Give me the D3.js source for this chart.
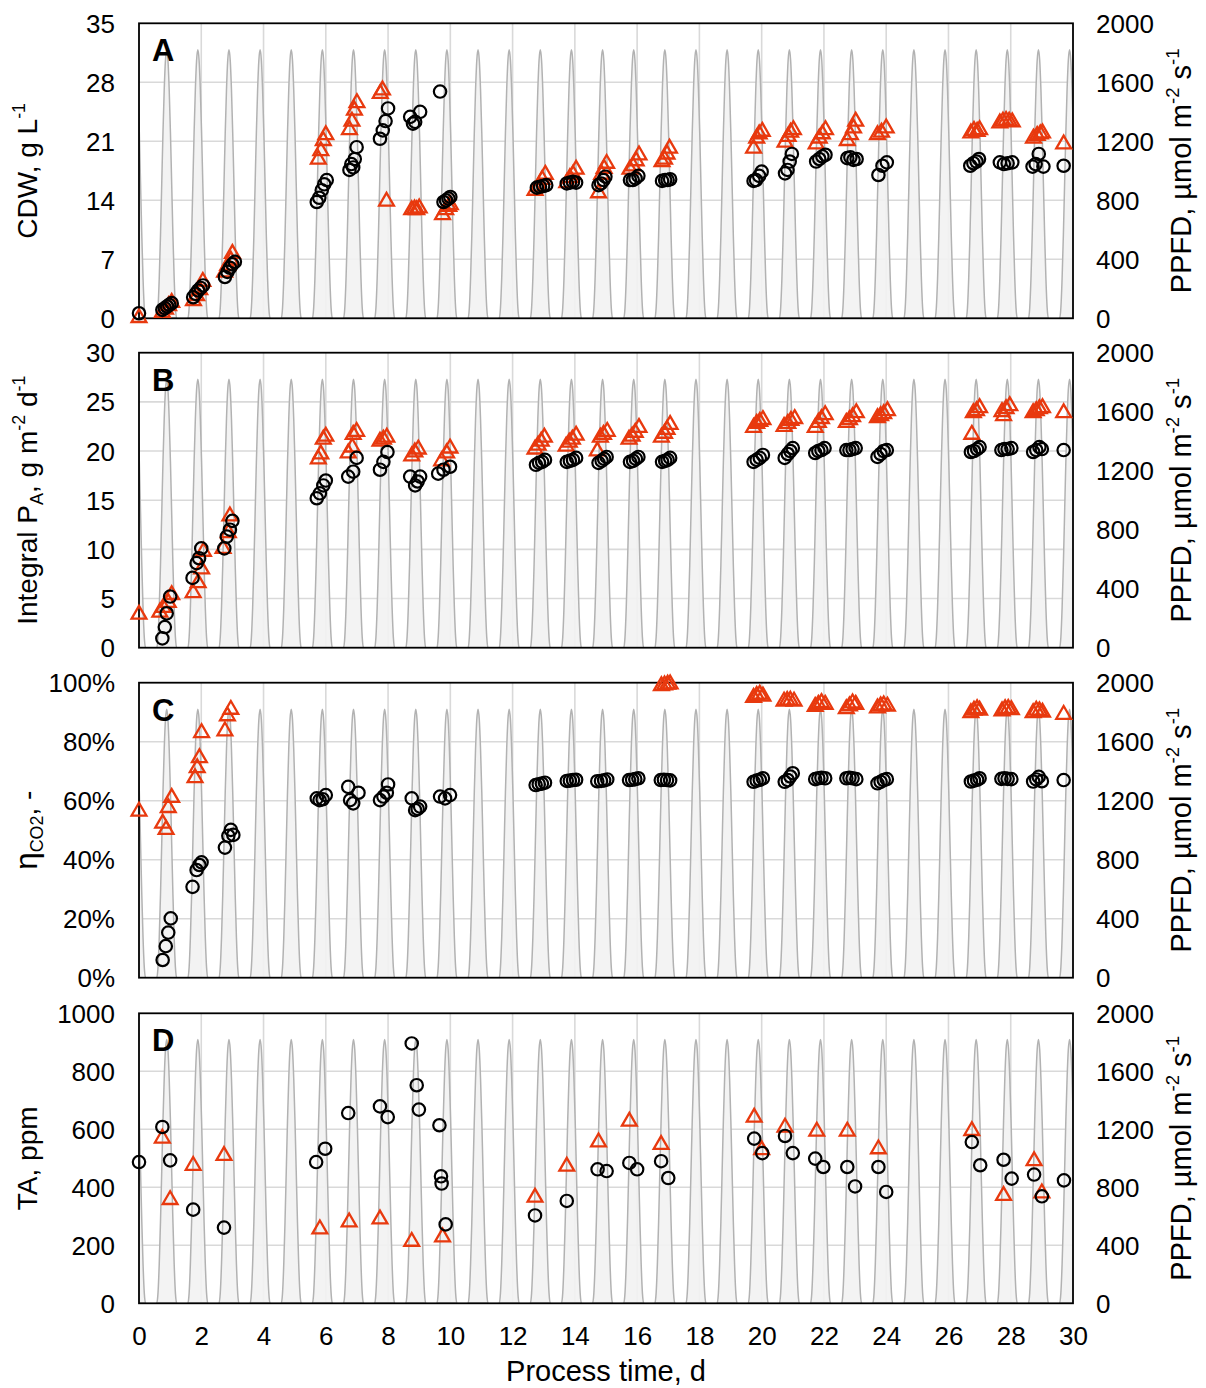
<!DOCTYPE html>
<html><head><meta charset="utf-8">
<script src="https://cdn.jsdelivr.net/npm/d3@7"></script>
<style>
body{margin:0;background:#fff;}
svg text{font-family:"Liberation Sans",Arial,Helvetica,sans-serif;fill:#000;}
</style></head><body>
<svg id="chart" width="1206" height="1388"></svg>
<script>
// ---------- DATA ----------
const xTicks = [0,2,4,6,8,10,12,14,16,18,20,22,24,26,28,30];
const ppfdTicks = [0,400,800,1200,1600,2000];
const cdwTicks = [0,7,14,21,28,35];
const paTicks = [0,5,10,15,20,25,30];
const etaTicks = [0,20,40,60,80,100];
const taTicks = [0,200,400,600,800,1000];

// daily light peaks (day of maximum) and the daily PPFD profile around the peak
const lightPeakDays = [-0.11,0.89,1.89,2.89,3.89,4.89,5.89,6.89,7.89,8.89,9.89,10.89,11.89,12.89,13.89,14.89,
  15.89,16.89,17.89,18.89,19.89,20.89,21.89,22.89,23.89,24.89,25.89,26.89,27.89,28.89,29.89];
const lightOffset = [-0.34,-0.32,-0.28,-0.24,-0.2,-0.16,-0.12,-0.08,-0.04,0,0.04,0.08,0.12,0.16,0.2,0.24,0.28,0.32,0.34];
const lightPPFD   = [0,0,70,270,560,910,1260,1550,1750,1820,1750,1550,1260,910,560,270,70,0,0];

// Panel A: CDW, g/L
const cdwCircles = [[0,0.6],
 [0.75,1.0],[0.83,1.2],[0.9,1.4],[0.97,1.6],[1.05,1.8],
 [1.74,2.5],[1.82,2.9],[1.9,3.3],[1.98,3.6],[2.06,3.9],
 [2.76,4.9],[2.84,5.5],[2.92,6.0],[3.0,6.4],[3.08,6.7],
 [5.71,13.8],[5.79,14.3],[5.87,15.2],[5.95,15.9],[6.03,16.4],
 [6.76,17.6],[6.82,18.3],[6.88,17.9],[6.93,18.9],[6.99,20.3],
 [7.74,21.3],[7.83,22.3],[7.92,23.4],[8.0,24.9],
 [8.71,23.9],[8.8,23.1],[8.87,23.3],[9.03,24.5],
 [9.67,26.9],
 [9.78,13.8],[9.86,14.0],[9.94,14.2],[10.0,14.4],
 [12.78,15.5],[12.88,15.6],[12.98,15.7],[13.08,15.8],
 [13.74,16.0],[13.84,16.1],[13.94,16.2],[14.04,16.1],
 [14.76,15.8],[14.84,16.0],[14.92,16.4],[14.98,16.8],
 [15.77,16.4],[15.86,16.4],[15.95,16.6],[16.04,16.9],
 [16.8,16.3],[16.9,16.4],[16.98,16.4],[17.06,16.5],
 [19.74,16.3],[19.82,16.4],[19.92,16.9],[20.0,17.4],
 [20.75,17.2],[20.83,17.6],[20.9,18.6],[20.97,19.5],
 [21.75,18.6],[21.85,18.9],[21.95,19.2],[22.05,19.4],
 [22.75,19.0],[22.85,19.1],[22.95,18.8],[23.05,18.9],
 [23.75,17.0],[23.88,18.1],[24.02,18.5],
 [26.7,18.1],[26.8,18.4],[26.9,18.6],[26.98,18.9],
 [27.65,18.5],[27.78,18.3],[27.9,18.4],[28.05,18.5],
 [28.7,18.0],[28.8,18.3],[28.9,19.5],[29.05,18.0],
 [29.7,18.1]];
const cdwTriangles = [[0,0.2],
 [0.75,0.8],[0.85,1.2],[0.95,1.6],[1.05,2.0],
 [1.75,2.2],[1.85,2.8],[1.95,3.5],[2.05,4.5],
 [2.75,5.6],[2.85,6.4],[2.95,7.0],[3.0,7.8],
 [5.76,19.0],[5.84,20.0],[5.92,21.2],[6.0,21.9],
 [6.76,22.5],[6.84,23.5],[6.92,24.8],[7.0,25.7],
 [7.75,26.8],[7.82,27.2],[7.95,14.0],
 [8.76,13.0],[8.85,13.1],[8.92,13.0],[9.0,13.2],
 [9.75,12.4],[9.85,13.0],[9.95,13.4],[10.0,13.6],
 [12.72,15.3],[12.85,15.8],[12.95,16.6],[13.05,17.2],
 [13.74,16.2],[13.84,16.8],[13.94,17.2],[14.04,17.8],
 [14.76,15.0],[14.86,17.2],[14.94,17.9],[15.02,18.5],
 [15.77,17.8],[15.87,18.2],[15.97,18.8],[16.06,19.5],
 [16.8,18.7],[16.88,19.0],[16.96,19.6],[17.04,20.3],
 [19.74,20.3],[19.84,21.5],[19.92,22.0],[20.02,22.3],
 [20.75,21.0],[20.85,21.7],[20.93,22.2],[21.02,22.5],
 [21.75,20.8],[21.85,21.5],[21.95,22.0],[22.05,22.5],
 [22.75,21.2],[22.85,21.9],[22.95,22.7],[23.02,23.5],
 [23.72,21.9],[23.85,22.2],[24.0,22.7],
 [26.72,22.1],[26.82,22.4],[26.92,22.3],[27.0,22.5],
 [27.65,23.3],[27.75,23.5],[27.85,23.6],[27.95,23.5],[28.05,23.4],
 [28.73,21.5],[28.85,21.8],[28.95,22.0],[29.02,22.1],
 [29.7,20.8]];

// Panel B: integral PA, g m-2 d-1
const paCircles = [
 [0.75,0.95],[0.83,2.1],[0.89,3.5],[1.0,5.2],
 [1.72,7.1],[1.85,8.6],[1.93,9.1],[2.0,10.1],
 [2.74,10.1],[2.82,11.3],[2.92,12.0],[3.0,12.9],
 [5.71,15.2],[5.81,15.7],[5.92,16.5],[6.0,17.0],
 [6.72,17.4],[6.88,17.9],[6.99,19.3],
 [7.74,18.1],[7.85,18.9],[7.98,19.9],
 [8.71,17.4],[8.87,16.5],[8.95,16.9],[9.03,17.4],
 [9.61,17.7],[9.78,18.1],[9.99,18.4],
 [12.75,18.6],[12.85,18.8],[12.95,18.9],[13.04,19.1],
 [13.74,18.9],[13.84,19.0],[13.94,19.1],[14.04,19.3],
 [14.76,18.8],[14.86,19.0],[14.94,19.2],[15.02,19.4],
 [15.77,18.9],[15.87,19.0],[15.96,19.2],[16.04,19.4],
 [16.8,18.9],[16.9,19.0],[16.98,19.1],[17.06,19.3],
 [19.74,18.9],[19.84,19.1],[19.94,19.3],[20.04,19.6],
 [20.74,19.3],[20.84,19.7],[20.92,20.0],[21.0,20.3],
 [21.72,19.8],[21.82,20.0],[21.92,20.1],[22.02,20.3],
 [22.72,20.1],[22.82,20.1],[22.92,20.2],[23.02,20.3],
 [23.72,19.4],[23.82,19.7],[23.92,20.0],[24.02,20.1],
 [26.72,19.9],[26.82,20.0],[26.92,20.2],[27.0,20.4],
 [27.7,20.1],[27.8,20.2],[27.9,20.2],[28.02,20.3],
 [28.72,19.9],[28.82,20.1],[28.92,20.4],[29.0,20.2],
 [29.7,20.1]];
const paTriangles = [[0,3.5],
 [0.67,3.7],[0.78,4.2],[0.94,4.7],[1.05,5.5],
 [1.74,5.7],[1.9,6.7],[2.01,8.1],[2.07,9.9],
 [2.7,10.2],[2.87,11.8],[2.92,13.5],
 [5.76,19.3],[5.84,19.8],[5.92,21.3],[6.0,21.6],
 [6.72,19.9],[6.85,20.5],[6.88,21.8],[6.99,22.1],
 [7.74,21.1],[7.85,21.3],[7.96,21.5],
 [8.76,19.6],[8.86,20.0],[8.97,20.3],
 [9.72,19.1],[9.88,19.9],[9.99,20.4],
 [12.72,20.3],[12.82,20.7],[12.92,21.1],[13.02,21.5],
 [13.72,20.6],[13.82,21.0],[13.92,21.3],[14.04,21.7],
 [14.72,20.1],[14.82,21.5],[14.92,21.8],[15.04,22.1],
 [15.74,21.3],[15.84,21.6],[15.94,22.0],[16.06,22.5],
 [16.78,21.5],[16.88,21.9],[16.96,22.3],[17.06,22.8],
 [19.74,22.5],[19.84,22.9],[19.94,23.1],[20.04,23.3],
 [20.72,22.6],[20.84,22.9],[20.94,23.2],[21.06,23.4],
 [21.72,22.5],[21.82,23.0],[21.92,23.4],[22.04,23.8],
 [22.72,23.0],[22.82,23.3],[22.92,23.6],[23.04,24.0],
 [23.72,23.5],[23.82,23.7],[23.92,23.9],[24.04,24.2],
 [26.75,21.8],[26.8,24.0],[26.9,24.2],[27.0,24.5],
 [27.72,24.1],[27.77,23.7],[27.85,24.4],[27.97,24.7],
 [28.72,24.0],[28.82,24.2],[28.92,24.4],[29.02,24.5],
 [29.7,24.0]];

// Panel C: CO2 efficiency, %
const etaCircles = [
 [0.76,6.0],[0.86,10.7],[0.94,15.3],[1.02,20.1],
 [1.72,30.8],[1.85,36.5],[1.94,38.2],[2.01,39.1],
 [2.76,44.1],[2.87,48.1],[2.95,50.1],[3.03,48.4],
 [5.71,60.8],[5.8,60.2],[5.9,60.5],[6.0,61.9],
 [6.72,64.7],[6.78,60.2],[6.88,59.1],[7.05,62.7],
 [7.74,60.2],[7.85,61.4],[7.96,62.7],[8.0,65.5],
 [8.76,60.8],[8.87,56.8],[8.95,57.2],[9.03,58.0],
 [9.67,61.4],[9.83,60.8],[9.99,61.9],
 [12.74,65.3],[12.84,65.6],[12.94,65.8],[13.04,66.1],
 [13.74,66.7],[13.84,66.8],[13.94,67.0],[14.04,67.1],
 [14.72,66.6],[14.84,66.7],[14.94,66.9],[15.04,67.2],
 [15.74,67.0],[15.84,67.1],[15.94,67.3],[16.04,67.6],
 [16.76,67.0],[16.86,67.1],[16.96,67.0],[17.06,66.9],
 [19.74,66.4],[19.84,66.8],[19.94,67.1],[20.04,67.6],
 [20.74,66.4],[20.84,67.0],[20.92,68.2],[21.0,69.3],
 [21.72,67.3],[21.82,67.6],[21.92,67.8],[22.04,67.6],
 [22.72,67.6],[22.82,67.8],[22.92,67.6],[23.04,67.3],
 [23.72,65.9],[23.82,66.4],[23.92,67.0],[24.02,67.3],
 [26.72,66.5],[26.82,66.8],[26.92,67.1],[27.0,67.6],
 [27.7,67.4],[27.8,67.6],[27.9,67.4],[28.02,67.3],
 [28.72,66.5],[28.82,67.2],[28.9,68.1],[29.0,66.6],
 [29.7,67.0]];
const etaTriangles = [[0,56.8],
 [0.76,52.7],[0.87,50.6],[0.94,58.0],[1.05,61.4],
 [1.8,68.1],[1.87,71.5],[1.94,74.9],[2.01,83.4],
 [2.76,84.0],[2.84,89.1],[2.95,91.3],
 [16.78,99.3],[16.88,99.6],[16.98,99.8],[17.06,99.9],
 [19.74,95.3],[19.84,96.0],[19.94,96.4],[20.04,95.8],
 [20.72,94.1],[20.82,94.3],[20.92,94.4],[21.04,94.1],
 [21.72,92.3],[21.82,93.0],[21.92,93.6],[22.04,93.0],
 [22.72,91.5],[22.82,92.5],[22.92,93.5],[23.02,93.0],
 [23.72,91.8],[23.82,92.5],[23.92,92.8],[24.04,92.4],
 [26.72,90.2],[26.82,91.0],[26.92,91.5],[27.0,91.0],
 [27.72,90.8],[27.82,91.5],[27.92,91.6],[28.02,91.2],
 [28.72,90.2],[28.82,91.0],[28.92,90.8],[29.02,90.3],
 [29.7,89.6]];

// Panel D: TA, ppm
const taCircles = [[0,487],[0.75,608],[1.0,493],[1.74,323],[2.73,261],
 [5.69,487],[5.98,533],[6.72,656],[7.74,679],[7.99,642],
 [8.76,896],[8.92,752],[8.99,668],
 [9.65,614],[9.70,438],[9.72,413],[9.85,272],
 [12.72,303],[13.74,353],[14.73,462],[15.02,456],[15.75,484],[16.0,462],[16.77,490],[17.0,432],
 [19.76,568],[20.02,518],[20.75,577],[21.0,518],[21.72,499],[21.98,470],[22.75,470],[23.0,403],[23.75,470],[24.0,384],
 [26.75,556],[27.02,476],[27.77,495],[28.03,430],[28.75,444],[29.0,369],[29.71,424]];
const taTriangles = [[0.75,573],[1.0,361],[1.74,479],[2.73,513],[5.81,260],[6.75,284],[7.74,294],[8.76,217],[9.75,232],
 [12.72,369],[13.74,476],[14.76,560],[15.75,631],[16.77,551],[19.76,645],[20.0,533],[20.75,611],[21.77,597],
 [22.75,597],[23.75,536],[26.75,599],[27.77,375],[28.75,495],[29.0,384]];

// ---------- DRAW ----------
const svg = d3.select('#chart');
const plotL = 139, plotR = 1073;
const FONT = '"Liberation Sans",Arial,Helvetica,sans-serif';
const RED = '#E8390E';
const x = d3.scaleLinear().domain([0,30]).range([plotL, plotR]);

const panels = [
 {key:'A', top:23.3, h:295, max:35, ticks:cdwTicks, fmt:d=>d, circ:cdwCircles, tri:cdwTriangles,
  title:[['CDW, g L',0],['-1',1]]},
 {key:'B', top:352.7, h:295, max:30, ticks:paTicks, fmt:d=>d, circ:paCircles, tri:paTriangles,
  title:[['Integral P',0],['A',-1],[', g m',0],['-2',1],[' d',0],['-1',1]]},
 {key:'C', top:682.7, h:295, max:100, ticks:etaTicks, fmt:d=>d+'%', circ:etaCircles, tri:etaTriangles,
  title:[['\u03b7',0,1.12],['CO2',-1],[', -',0]]},
 {key:'D', top:1013.3, h:290, max:1000, ticks:taTicks, fmt:d=>d, circ:taCircles, tri:taTriangles,
  title:[['TA, ppm',0]]}
];
const rightTitle = [['PPFD, \u00b5mol m',0],['-2',1],[' s',0],['-1',1]];

function addTitle(g, parts, size){
  const t = g.append('text').attr('text-anchor','middle').attr('font-size',size);
  let cur = 0;
  parts.forEach(([s,shift,scale])=>{
    const fs = (shift===0 ? size : size*0.64) * (scale||1);
    const target = shift===1 ? -size*0.42 : shift===-1 ? size*0.22 : 0;
    t.append('tspan').attr('font-size',fs).attr('dy',target-cur).text(s);
    cur = target;
  });
  return t;
}

const area = d3.area().x(d=>x(d[0])).y0(d=>d[2]).y1(d=>d[1]).curve(d3.curveMonotoneX);
const triPath = 'M0,-7.4L7.4,5.4L-7.4,5.4Z';

panels.forEach(p=>{
  const bottom = p.top + p.h;
  const y = d3.scaleLinear().domain([0,p.max]).range([bottom, p.top]);
  const y2 = d3.scaleLinear().domain([0,2000]).range([bottom, p.top]);
  const g = svg.append('g');
  const cid = 'clip'+p.key;
  svg.append('clipPath').attr('id',cid).append('rect')
    .attr('x',plotL).attr('y',p.top).attr('width',plotR-plotL).attr('height',p.h);
  const plot = g.append('g').attr('clip-path',`url(#${cid})`);

  // gridlines
  plot.selectAll('line.hg').data(p.ticks.slice(1,-1)).enter().append('line')
    .attr('x1',plotL).attr('x2',plotR).attr('y1',d=>y(d)).attr('y2',d=>y(d))
    .attr('stroke','#d9d9d9').attr('stroke-width',1.6);
  plot.selectAll('line.vg').data(xTicks.slice(1,-1)).enter().append('line')
    .attr('y1',p.top).attr('y2',bottom).attr('x1',d=>x(d)).attr('x2',d=>x(d))
    .attr('stroke','#d9d9d9').attr('stroke-width',1.6);

  // light peaks (secondary axis)
  lightPeakDays.forEach(pd=>{
    const pts = lightOffset.map((o,i)=>[pd+o, y2(lightPPFD[i]), y2(0)]);
    plot.append('path').attr('d',area(pts))
      .attr('fill','#f2f2f2').attr('fill-opacity',0.9)
      .attr('stroke','#b2b2b2').attr('stroke-width',1.5);
  });

  // border
  g.append('rect').attr('x',plotL).attr('y',p.top).attr('width',plotR-plotL).attr('height',p.h)
    .attr('fill','none').attr('stroke','#000').attr('stroke-width',1.8);

  // markers
  g.selectAll('path.tri').data(p.tri).enter().append('path')
    .attr('d',triPath).attr('transform',d=>`translate(${x(d[0])},${y(d[1])})`)
    .attr('fill','none').attr('stroke',RED).attr('stroke-width',2.3);
  g.selectAll('circle.c').data(p.circ).enter().append('circle')
    .attr('cx',d=>x(d[0])).attr('cy',d=>y(d[1])).attr('r',6.2)
    .attr('fill','none').attr('stroke','#000').attr('stroke-width',2.2);

  // left axis
  const la = g.append('g').attr('transform',`translate(${plotL},0)`)
    .call(d3.axisLeft(y).tickValues(p.ticks).tickSize(0).tickPadding(24).tickFormat(p.fmt));
  la.select('.domain').remove();
  la.selectAll('text').attr('font-size',26).attr('font-family',FONT).attr('dy','0.35em');

  // right axis
  const ra = g.append('g').attr('transform',`translate(${plotR},0)`)
    .call(d3.axisRight(y2).tickValues(ppfdTicks).tickSize(0).tickPadding(23).tickFormat(d3.format('d')));
  ra.select('.domain').remove();
  ra.selectAll('text').attr('font-size',26).attr('font-family',FONT).attr('dy','0.35em');

  // panel letter
  g.append('text').attr('x',152).attr('y',p.top+38).attr('font-size',31).attr('font-weight','bold').text(p.key);

  // left title
  const cy = p.top + p.h/2;
  addTitle(g.append('g').attr('transform',`translate(37,${cy}) rotate(-90)`), p.title, 28);
  // right title
  addTitle(g.append('g').attr('transform',`translate(1191,${cy}) rotate(-90)`), rightTitle, 29);
});

// bottom axis
const lastBottom = 1013.3 + 290;
const ba = svg.append('g').attr('transform',`translate(0,${lastBottom})`)
  .call(d3.axisBottom(x).tickValues(xTicks).tickSize(0).tickPadding(23));
ba.select('.domain').remove();
ba.selectAll('text').attr('font-size',26).attr('font-family',FONT);
svg.append('text').attr('x',(plotL+plotR)/2).attr('y',1381).attr('text-anchor','middle')
  .attr('font-size',29).text('Process time, d');
</script>
</body></html>
